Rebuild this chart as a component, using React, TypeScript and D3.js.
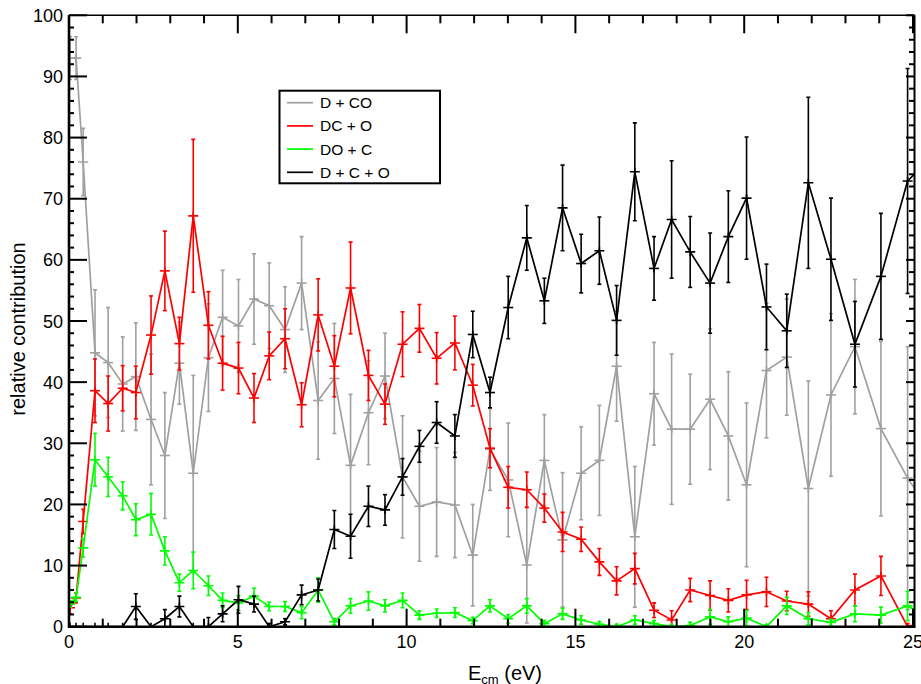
import React from "react";
import * as d3 from "d3";

// Collision energy grid (eV)
const energy = [
  0.03, 0.21, 0.42, 0.77, 1.16, 1.59, 1.98, 2.43, 2.84, 3.27, 3.68, 4.13, 4.55,
  5.02, 5.48, 5.93, 6.4, 6.89, 7.38, 7.86, 8.34, 8.87, 9.36, 9.88, 10.38, 10.89,
  11.43, 11.96, 12.47, 13.01, 13.56, 14.08, 14.62, 15.17, 15.71, 16.22, 16.76,
  17.33, 17.85, 18.4, 18.99, 19.53, 20.07, 20.66, 21.26, 21.9, 22.57, 23.28,
  24.05, 24.84, 25.66,
];

// D + CO
const dCO = [
  93, 93, 76, 44.8, 43.2, 39.7, 40.9, 33.9, 28.0, 43.1, 25.1, 44.0, 50.6, 49.2,
  53.6, 52.5, 48.6, 56.2, 37.0, 40.6, 26.4, 35.0, 41.0, 24.5, 19.7, 20.4, 19.9,
  11.7, 29.0, 24.0, 10.1, 27.2, 14.2, 25.1, 27.2, 42.6, 14.7, 38.1, 32.3, 32.3,
  37.2, 31.2, 23.2, 41.9, 44.1, 22.6, 37.9, 45.8, 32.4, 24.3, 17.7,
];
const dCOErr = [
  3.5, 3.5, 5.5, 10.3, 9, 7.7, 8.8, 10.7, 10.3, 6.7, 16, 8.8, 7.7, 7.6, 7.4, 7,
  7, 7.6, 9.6, 9, 11.6, 8.5, 7, 10, 9, 8.9, 8.6, 8.3, 6.7, 9.3, 9.5, 7.5, 11,
  7.6, 9, 9, 11.5, 8.4, 12.3, 9, 11.5, 10.5, 13.4, 11, 9.5, 17.6, 13.3, 11,
  14.3, 21.5, 20,
];

// DC + O
const dcO = [
  3.1, 4.7, 17.2, 38.6, 36.5, 39.0, 38.3, 47.7, 58.2, 46.3, 67.2, 49.3, 43.1,
  42.3, 37.4, 44.3, 47.1, 36.3, 51.0, 42.6, 55.4, 41.1, 36.4, 46.2, 48.8, 43.9,
  46.4, 39.5, 29.2, 22.8, 22.4, 19.4, 15.5, 14.3, 10.6, 7.5, 9.5, 2.7, 1.1, 6.0,
  5.1, 4.3, 5.2, 5.7, 4.2, 3.7, 1.3, 6.0, 8.3, 0, 1.2,
];
const dcOErr = [
  1, 0.8, 2, 5.2, 4.5, 3.7, 4.3, 6.4, 6.5, 4.3, 12.5, 5.5, 4.4, 4.2, 4, 3.9,
  4.9, 3.6, 5.9, 5, 7.5, 4.1, 3.3, 5.3, 3.9, 4.2, 4.4, 3.4, 3.2, 3.4, 2.9, 2.3,
  3.2, 2, 2.2, 2.3, 2.5, 1.2, 1.5, 1.9, 2.4, 1.9, 2.4, 2.4, 1.6, 2, 1.3, 2.6,
  3.2, 0.5, 1,
];

// DO + C
const doC = [
  3.7, 4.8, 12.9, 27.3, 24.5, 21.4, 17.5, 18.4, 12.4, 7.2, 9.2, 6.7, 4.3, 3.9,
  5.0, 3.3, 3.3, 2.3, 6.0, 0.8, 3.4, 4.2, 3.4, 4.3, 1.9, 2.2, 2.3, 1.0, 3.4, 1.3,
  3.4, 0.5, 2.1, 1.1, 0.4, 0, 1.1, 0.5, 0, 0.2, 1.6, 0.8, 1.4, 0, 3.4, 1.3, 0.7,
  2.1, 1.9, 3.4, 0.9,
];
const doCErr = [
  0.5, 0.7, 1.5, 4.3, 3.2, 2.3, 2.6, 3.4, 2.3, 1.4, 3, 1.6, 1.2, 1.2, 1.3, 0.7,
  0.8, 1, 2, 0.5, 1.2, 1.5, 1, 1.2, 0.7, 0.7, 0.8, 0.5, 1, 0.7, 1.2, 0.5, 0.9,
  0.7, 0.4, 0.4, 0.7, 0.5, 0.3, 0.5, 1.2, 0.8, 1.3, 0.3, 1.4, 1, 0.5, 1.3, 1.3,
  2.4, 1,
];

// D + C + O
const dCplusO = [
  0, 0, 0, 0, 0, 0, 3.3, 0, 1.3, 3.3, 0, 0, 2.1, 4.4, 3.7, 0, 0.8, 5.2, 6.0,
  15.9, 14.8, 19.7, 19.1, 24.5, 29.5, 33.4, 31.2, 47.8, 38.3, 52.2, 63.6, 53.3,
  68.5, 59.4, 61.5, 50.1, 74.4, 58.6, 66.6, 61.3, 56.2, 63.8, 70.1, 52.3, 48.4,
  72.6, 60.1, 46.2, 57.3, 72.9, 77.4,
];
const dCplusOErr = [
  0, 0, 0, 0, 0, 0, 2.1, 0, 1.5, 1.7, 0, 1.5, 1.3, 2.2, 1.3, 0.5, 0.5, 1.6, 1.8,
  3.1, 3.6, 3.3, 2.5, 3, 2.6, 3.4, 3.5, 3.8, 2.5, 5.1, 5.3, 3.7, 7, 4.8, 5.5,
  5.7, 8, 5.2, 9.6, 5.8, 8.2, 7.5, 10, 7, 6, 14, 10, 7, 10.3, 18.4, 15,
];

const seriesNames = ["D + CO", "DC + O", "DO + C", "D + C + O"];
const seriesColors = ["#a0a0a0", "#ff0000", "#00ff00", "#000000"];
const seriesValues = [dCO, dcO, doC, dCplusO];
const seriesErrors = [dCOErr, dcOErr, doCErr, dCplusOErr];

const xTicks = [0, 5, 10, 15, 20, 25];
const yTicks = [0, 10, 20, 30, 40, 50, 60, 70, 80, 90, 100];

const W = 921;
const H = 684;
const left = 69;
const right = 913;
const top = 15.3;
const bottom = 626.7;
const font = "'Liberation Sans', Arial, Helvetica, sans-serif";

export default function App() {
  const x = d3.scaleLinear().domain([0, 25]).range([left, right]);
  const y = d3.scaleLinear().domain([0, 100]).range([bottom, top]);

  const line = d3
    .line<number>()
    .x((_, i) => x(energy[i]))
    .y((v) => y(v));

  const xMinor = d3.range(0, 26, 1);
  const yMinor = d3.range(0, 101, 2);

  return (
    <svg
      width={W}
      height={H}
      style={{ position: "absolute", left: 0, top: 0, background: "#fff" }}
      fontFamily={font}
    >
      <defs>
        <clipPath id="plotArea">
          <rect x={left} y={top} width={right - left + 2} height={bottom - top} />
        </clipPath>
      </defs>

      <g clipPath="url(#plotArea)">
        {seriesValues.map((vals, s) => {
          const color = seriesColors[s];
          const errs = seriesErrors[s];
          return (
            <g key={seriesNames[s]} stroke={color} fill="none">
              <path d={line(vals) || ""} strokeWidth={1.7} strokeLinejoin="miter" />
              {vals.map((v, i) => {
                const cx = x(energy[i]);
                const cy = y(v);
                const e = errs[i];
                const y1 = y(v + e);
                const y2 = y(v - e);
                return (
                  <g key={i} strokeWidth={1.6}>
                    {e > 0 && (
                      <>
                        <line x1={cx} x2={cx} y1={y1} y2={y2} />
                        <line x1={cx - 2} x2={cx + 2} y1={y1} y2={y1} />
                        <line x1={cx - 2} x2={cx + 2} y1={y2} y2={y2} />
                      </>
                    )}
                    <line x1={cx - 5} x2={cx + 5} y1={cy} y2={cy} />
                    <line x1={cx} x2={cx} y1={cy - 4} y2={cy + 4} />
                  </g>
                );
              })}
            </g>
          );
        })}
      </g>

      {/* Frame and ticks */}
      <g stroke="#000" fill="none">
        <line x1={left} x2={right + 2} y1={top} y2={top} strokeWidth={1.5} />
        <line x1={right + 1.5} x2={right + 1.5} y1={top} y2={bottom} strokeWidth={2} />
        <line x1={left} x2={left} y1={top} y2={bottom + 1} strokeWidth={2.6} />
        <line x1={left - 1} x2={right + 2.5} y1={bottom} y2={bottom} strokeWidth={2.6} />

        {xMinor.map((t) => {
          const major = t % 5 === 0;
          const len = major ? 18 : 8;
          return (
            <g key={"xt" + t} strokeWidth={2}>
              <line x1={x(t)} x2={x(t)} y1={bottom} y2={bottom - len} />
              <line x1={x(t)} x2={x(t)} y1={top} y2={top + len} />
            </g>
          );
        })}
        {yMinor.map((t) => {
          const major = t % 10 === 0;
          return (
            <g key={"yt" + t} strokeWidth={2}>
              <line x1={left} x2={left + (major ? 18 : 5)} y1={y(t)} y2={y(t)} />
              <line x1={right + 1} x2={right + 1 - (major ? 8 : 5)} y1={y(t)} y2={y(t)} />
            </g>
          );
        })}
      </g>

      {/* Tick labels */}
      <g fontSize={18} fill="#000">
        {xTicks.map((t) => (
          <text key={"xl" + t} x={x(t)} y={648} textAnchor="middle">
            {t}
          </text>
        ))}
        {yTicks.map((t) => (
          <text key={"yl" + t} x={63} y={y(t) + 6.5} textAnchor="end">
            {t}
          </text>
        ))}
      </g>

      {/* Axis titles */}
      <text x={468} y={680} fontSize={20} fill="#000">
        E<tspan fontSize={13} dy={4}>cm</tspan>
        <tspan dy={-4}> (eV)</tspan>
      </text>
      <text
        transform={`translate(25,${(top + bottom) / 2 + 8}) rotate(-90)`}
        textAnchor="middle"
        fontSize={20}
        fill="#000"
      >
        relative contribution
      </text>

      {/* Legend */}
      <g>
        <rect x={279.5} y={90.7} width={160.5} height={92.6} fill="#fff" stroke="#000" strokeWidth={2} />
        {seriesNames.map((name, i) => {
          const ly = 102.7 + i * 23.2;
          return (
            <g key={name}>
              <line x1={287} x2={313} y1={ly} y2={ly} stroke={seriesColors[i]} strokeWidth={1.7} />
              <text x={320} y={ly + 5.5} fontSize={15.5} fill="#000">
                {name}
              </text>
            </g>
          );
        })}
      </g>
    </svg>
  );
}
